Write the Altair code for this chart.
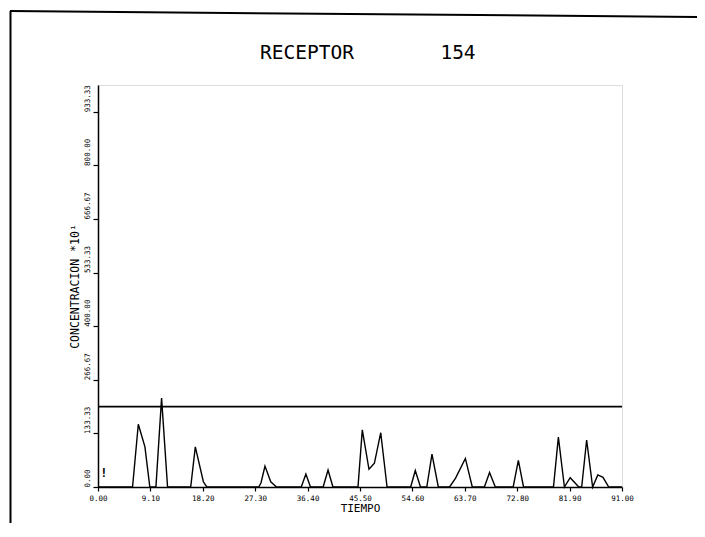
import altair as alt
import pandas as pd

# ---- data ----
tiempo = [0.0, 6.0, 7.0, 8.15, 9.0, 10.06, 11.04, 12.08, 16.1, 16.9, 18.3, 18.9,
          27.9, 28.3, 29.0, 30.0, 31.0, 35.3, 36.1, 36.9, 39.1, 39.95, 40.8,
          45.15, 45.9, 47.06, 48.0, 49.1, 50.2, 54.3, 55.1, 56.0, 57.1, 58.0, 59.1,
          61.05, 62.1, 63.8, 65.0, 67.1, 68.0, 69.0, 72.1, 73.0, 73.9,
          79.1, 79.95, 81.0, 82.0, 83.5, 84.0, 84.86, 85.9, 86.8, 87.7, 88.7, 91.0]
concentracion = [0, 0, 156, 100, 0, 0, 221, 0, 0, 100, 13, 0,
                 0, 10, 52, 13, 0, 0, 32, 0, 0, 42, 0,
                 0, 142, 44, 59, 135, 0, 0, 41, 0, 0, 82, 0,
                 0, 22, 71, 0, 0, 36, 0, 0, 66, 0,
                 0, 124, 0, 23, 0, 0, 117, 0, 30, 24, 0, 0]
nivel_ref = 200
marca_t = [1.0]
marca_c = [35]

x_ticks = [0.0, 4.55, 9.10, 13.65, 18.20, 22.75, 27.30, 31.85, 36.40, 40.95, 45.50,
           50.05, 54.60, 59.15, 63.70, 68.25, 72.80, 77.35, 81.90, 86.45, 91.00]
y_ticks = [0.0, 66.667, 133.333, 200.0, 266.667, 333.333, 400.0, 466.667, 533.333,
           600.0, 666.667, 733.333, 800.0, 866.667, 933.333, 1000.0]

titulo = ["RECEPTOR", "154"]

FONT = "DejaVu Sans Mono"

serie = pd.DataFrame({"t": tiempo, "c": concentracion})
ref = pd.DataFrame({"x0": [x_ticks[0]], "x1": [x_ticks[-1]], "y": [nivel_ref]})
marca = pd.DataFrame({"t": marca_t, "c": marca_c, "txt": ["!"]})

xscale = alt.Scale(domain=[0, 91], nice=False, zero=False)
yscale = alt.Scale(domain=[0, 1000], nice=False)

xaxis = alt.Axis(values=x_ticks, title="TIEMPO", grid=False,
                 labelExpr="abs(datum.value/9.1 - round(datum.value/9.1)) < 0.01 ? format(datum.value, '.2f') : ''",
                 labelFont=FONT, labelFontSize=7.5, labelColor="black", labelPadding=3,
                 titleFont=FONT, titleFontSize=11, titleFontWeight="normal", titleColor="black",
                 titlePadding=1, tickSize=4, tickColor="black", tickWidth=1.2,
                 domainColor="black", domainWidth=1.5, labelFlush=False, labelOverlap=False)
yaxis = alt.Axis(values=y_ticks, title="CONCENTRACION  *10¹", grid=False,
                 labelExpr="abs(datum.value/133.3333 - round(datum.value/133.3333)) < 0.01 ? format(datum.value, '.2f') : ''",
                 labelAngle=270, labelAlign="left", labelBaseline="middle",
                 labelFont=FONT, labelFontSize=7.5, labelColor="black", labelPadding=6,
                 titleFont=FONT, titleFontSize=11.5, titleFontWeight="normal", titleColor="black",
                 titlePadding=3, tickSize=5, tickColor="black", tickWidth=1.2,
                 domainColor="black", domainWidth=1.5, labelFlush=False, labelOverlap=False)

linea = alt.Chart(serie).mark_line(color="black", strokeWidth=1.4).encode(
    x=alt.X("t:Q", scale=xscale, axis=xaxis),
    y=alt.Y("c:Q", scale=yscale, axis=yaxis),
)

regla = alt.Chart(ref).mark_rule(color="black", strokeWidth=1.6).encode(
    x=alt.X("x0:Q", scale=xscale), x2="x1:Q", y=alt.Y("y:Q", scale=yscale)
)

excl = alt.Chart(marca).mark_text(font=FONT, fontSize=12, fontWeight="bold",
                                  color="black", baseline="middle").encode(
    x=alt.X("t:Q", scale=xscale), y=alt.Y("c:Q", scale=yscale), text="txt:N"
)

# title texts (drawn as text marks above the plot)
tit1 = alt.Chart(ref).mark_text(text=titulo[0], font=FONT, fontSize=19.5,
                                color="black", baseline="alphabetic", align="center").encode(
    x=alt.value(209), y=alt.value(-26)
)
tit2 = alt.Chart(ref).mark_text(text=titulo[1], font=FONT, fontSize=19.5,
                                color="black", baseline="alphabetic", align="center").encode(
    x=alt.value(360), y=alt.value(-26)
)

marco_sup = alt.Chart(ref).mark_rule(color="black", strokeWidth=2).encode(
    x=alt.value(-88), x2=alt.value(600), y=alt.value(-74), y2=alt.value(-68)
)
marco_izq = alt.Chart(ref).mark_rule(color="black", strokeWidth=2).encode(
    x=alt.value(-87.5), y=alt.value(-74), y2=alt.value(460)
)

chart = alt.layer(marco_sup, marco_izq, tit1, tit2, regla, linea, excl).properties(
    width=524, height=402,
    padding={"left": 90, "top": 77, "right": 75, "bottom": 36},
    autosize=alt.AutoSizeParams(type="none"),
).configure_view(stroke=None).configure(background="white")

chart.save("out.html", embed_options={"renderer": "svg", "actions": False})
